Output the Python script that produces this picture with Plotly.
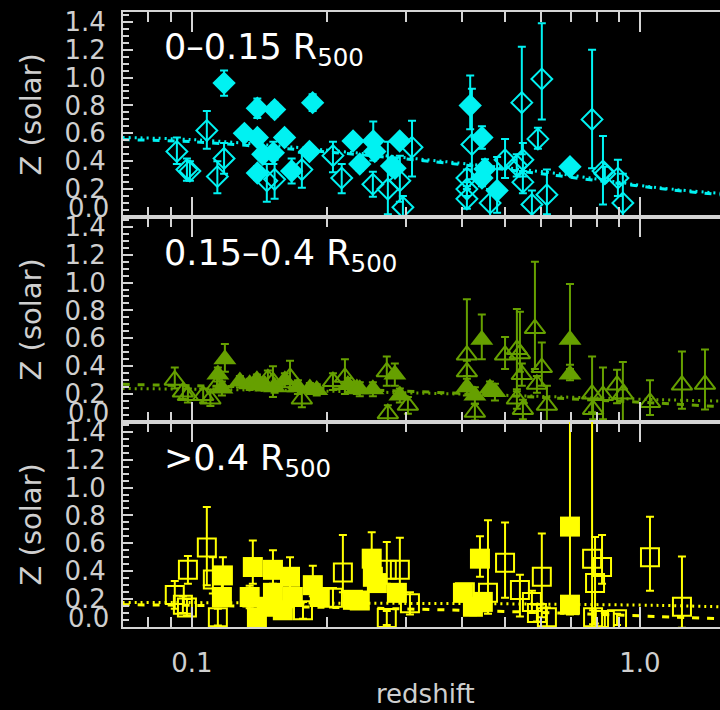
import math
import plotly.graph_objects as go
from plotly.subplots import make_subplots

# ---------------- data ----------------
# Panel 1: 0-0.15 R500 (cyan diamonds)
p1_fill_z = [0.118, 0.131, 0.140, 0.153, 0.140, 0.140, 0.144, 0.152, 0.161, 0.167,
             0.186, 0.183, 0.229, 0.237, 0.254, 0.256, 0.291, 0.279, 0.284, 0.418,
             0.444, 0.451, 0.444, 0.480, 0.698]
p1_fill_Z = [0.96, 0.60, 0.78, 0.77, 0.57, 0.315, 0.45, 0.46, 0.57, 0.33,
             0.82, 0.47, 0.545, 0.38, 0.545, 0.47, 0.545, 0.365, 0.35, 0.80,
             0.57, 0.345, 0.28, 0.19, 0.36]
p1_fill_ep = [0.09, 0.03, 0.07, 0.05, 0.04, 0.05, 0.05, 0.08, 0.04, 0.09,
              0.06, 0.03, 0.04, 0.05, 0.14, 0.05, 0.04, 0.06, 0.05, 0.215,
              0.08, 0.07, 0.06, 0.24, 0.03]
p1_fill_em = [0.09, 0.03, 0.07, 0.05, 0.04, 0.05, 0.05, 0.08, 0.04, 0.09,
              0.06, 0.03, 0.04, 0.05, 0.14, 0.05, 0.04, 0.06, 0.05, 0.17,
              0.08, 0.07, 0.06, 0.16, 0.03]

p1_open_z = [0.0926, 0.0975, 0.099, 0.108, 0.114, 0.118, 0.147, 0.153, 0.176, 0.2065,
             0.216, 0.310, 0.2535, 0.2738, 0.2912, 0.2958, 0.4217, 0.411, 0.411, 0.411,
             0.463, 0.500, 0.531, 0.545, 0.548, 0.548, 0.574, 0.604, 0.592, 0.620,
             0.782, 0.827, 0.835, 0.893, 0.916]
p1_open_Z = [0.47, 0.34, 0.33, 0.62, 0.29, 0.42, 0.26, 0.27, 0.34, 0.44,
             0.28, 0.50, 0.235, 0.20, 0.26, 0.07, 0.52, 0.28, 0.20, 0.13,
             0.10, 0.41, 0.37, 0.82, 0.41, 0.25, 0.09, 0.99, 0.56, 0.16,
             0.70, 0.33, 0.31, 0.28, 0.10]
p1_open_ep = [0.10, 0.08, 0.07, 0.14, 0.11, 0.11, 0.12, 0.14, 0.12, 0.10,
              0.10, 0.19, 0.09, 0.34, 0.18, 0.08, 0.40, 0.06, 0.05, 0.07,
              0.10, 0.15, 0.08, 0.40, 0.12, 0.08, 0.10, 0.40, 0.08, 0.18,
              0.50, 0.25, 0.05, 0.13, 0.21]
p1_open_em = [0.09, 0.08, 0.07, 0.13, 0.12, 0.11, 0.15, 0.14, 0.13, 0.12,
              0.11, 0.21, 0.09, 0.18, 0.15, 0.08, 0.25, 0.06, 0.05, 0.07,
              0.10, 0.13, 0.08, 0.37, 0.12, 0.08, 0.10, 0.29, 0.07, 0.14,
              0.35, 0.24, 0.05, 0.13, 0.12]

# Panel 2: 0.15-0.4 R500 (green triangles)
p2_fill_z = [0.1185, 0.1143, 0.1167, 0.128, 0.1346, 0.1397, 0.1455, 0.153, 0.1419, 0.1613,
             0.1725, 0.1834, 0.190, 0.223, 0.2335, 0.237, 0.2535, 0.2838, 0.2912, 0.411,
             0.4437, 0.4282, 0.4627, 0.4747, 0.698, 0.698]
p2_fill_Z = [0.45, 0.34, 0.24, 0.29, 0.27, 0.30, 0.265, 0.25, 0.265, 0.30,
             0.25, 0.24, 0.23, 0.265, 0.24, 0.235, 0.235, 0.34, 0.19, 0.25,
             0.59, 0.19, 0.24, 0.215, 0.59, 0.34]
p2_fill_ep = [0.11, 0.05, 0.05, 0.04, 0.04, 0.04, 0.04, 0.04, 0.04, 0.05,
              0.05, 0.04, 0.04, 0.05, 0.04, 0.05, 0.05, 0.08, 0.05, 0.06,
              0.18, 0.06, 0.05, 0.06, 0.40, 0.04]
p2_fill_em = [0.09, 0.05, 0.05, 0.04, 0.04, 0.04, 0.04, 0.04, 0.04, 0.05,
              0.05, 0.04, 0.04, 0.05, 0.04, 0.05, 0.05, 0.08, 0.05, 0.06,
              0.14, 0.06, 0.05, 0.06, 0.18, 0.04]

p2_open_z = [0.0916, 0.0955, 0.098, 0.106, 0.110, 0.1138, 0.1478, 0.1517, 0.1656, 0.176,
             0.2065, 0.2196, 0.2723, 0.3035, 0.2738, 0.411, 0.411, 0.4282, 0.500, 0.5314,
             0.5397, 0.545, 0.5314, 0.548, 0.583, 0.604, 0.589, 0.620, 0.782, 0.786,
             0.827, 0.889, 0.916, 1.053, 1.241, 1.397]
p2_open_Z = [0.30, 0.215, 0.19, 0.19, 0.165, 0.265, 0.31, 0.29, 0.32, 0.165,
             0.29, 0.32, 0.36, 0.12, 0.06, 0.48, 0.36, 0.07, 0.48, 0.52,
             0.49, 0.34, 0.165, 0.09, 0.67, 0.39, 0.27, 0.12, 0.20, 0.09,
             0.19, 0.265, 0.20, 0.14, 0.265, 0.27]
p2_open_ep = [0.09, 0.05, 0.05, 0.05, 0.05, 0.05, 0.06, 0.11, 0.12, 0.06,
              0.06, 0.13, 0.11, 0.06, 0.06, 0.40, 0.08, 0.06, 0.13, 0.29,
              0.30, 0.08, 0.07, 0.07, 0.48, 0.18, 0.06, 0.14, 0.27, 0.07,
              0.20, 0.11, 0.23, 0.16, 0.24, 0.25]
p2_open_em = [0.06, 0.05, 0.05, 0.05, 0.05, 0.05, 0.06, 0.11, 0.10, 0.06,
              0.06, 0.12, 0.10, 0.06, 0.06, 0.15, 0.08, 0.06, 0.10, 0.30,
              0.13, 0.08, 0.07, 0.07, 0.29, 0.13, 0.06, 0.12, 0.13, 0.07,
              0.17, 0.13, 0.20, 0.09, 0.17, 0.18]

# Panel 3: >0.4 R500 (yellow squares)
p3_fill_z = [0.1173, 0.1167, 0.1368, 0.1346, 0.1397, 0.1517, 0.1517, 0.147, 0.1596, 0.1656,
             0.168, 0.1862, 0.193, 0.2288, 0.237, 0.252, 0.2535, 0.2588, 0.2868, 0.4027,
             0.4395, 0.4239, 0.446, 0.698, 0.698]
p3_fill_Z = [0.37, 0.215, 0.43, 0.215, 0.07, 0.41, 0.245, 0.145, 0.12, 0.36,
             0.215, 0.30, 0.215, 0.195, 0.19, 0.49, 0.36, 0.315, 0.245, 0.245,
             0.49, 0.145, 0.18, 0.72, 0.16]
p3_fill_ep = [0.13, 0.06, 0.19, 0.08, 0.05, 0.14, 0.06, 0.05, 0.05, 0.14,
              0.06, 0.14, 0.06, 0.06, 0.06, 0.19, 0.06, 0.06, 0.06, 0.06,
              0.16, 0.06, 0.05, 0.80, 0.06]
p3_fill_em = [0.10, 0.06, 0.12, 0.08, 0.05, 0.10, 0.06, 0.05, 0.05, 0.10,
              0.06, 0.08, 0.06, 0.06, 0.06, 0.10, 0.06, 0.06, 0.06, 0.06,
              0.13, 0.06, 0.05, 0.50, 0.07]

p3_open_z = [0.0916, 0.0955, 0.098, 0.0975, 0.108, 0.1143, 0.1114, 0.177, 0.2065, 0.2173,
             0.2723, 0.2912, 0.3067, 0.2723, 0.4067, 0.458, 0.500, 0.5397, 0.574, 0.604,
             0.589, 0.620, 0.782, 0.823, 0.794, 0.786, 0.835, 0.889, 1.053, 1.241]
p3_open_Z = [0.23, 0.16, 0.41, 0.14, 0.57, 0.07, 0.34, 0.12, 0.21, 0.39,
             0.41, 0.41, 0.17, 0.065, 0.25, 0.245, 0.46, 0.265, 0.18, 0.36,
             0.10, 0.07, 0.49, 0.43, 0.315, 0.07, 0.05, 0.055, 0.50, 0.145]
p3_open_ep = [0.10, 0.06, 0.10, 0.06, 0.29, 0.06, 0.16, 0.06, 0.07, 0.27,
              0.20, 0.23, 0.08, 0.05, 0.05, 0.52, 0.29, 0.11, 0.08, 0.31,
              0.06, 0.07, 1.00, 0.23, 0.33, 0.05, 0.05, 0.04, 0.29, 0.36]
p3_open_em = [0.10, 0.06, 0.10, 0.06, 0.27, 0.06, 0.10, 0.06, 0.07, 0.14,
              0.10, 0.15, 0.08, 0.05, 0.05, 0.15, 0.25, 0.19, 0.08, 0.29,
              0.06, 0.07, 0.50, 0.12, 0.29, 0.05, 0.05, 0.04, 0.24, 0.15]

# Trend curves
trend_z = [0.07, 0.10, 0.17, 0.25, 0.40, 0.66, 1.10, 1.51]
p1_dot = [0.57, 0.555, 0.50, 0.45, 0.385, 0.31, 0.21, 0.17]
p1_dash = [0.555, 0.54, 0.485, 0.44, 0.375, 0.295, 0.205, 0.16]
p2_dot = [0.24, 0.235, 0.225, 0.215, 0.20, 0.18, 0.16, 0.15]
p2_dash = [0.27, 0.26, 0.245, 0.23, 0.205, 0.17, 0.135, 0.11]
p3_dot = [0.175, 0.175, 0.172, 0.17, 0.168, 0.163, 0.155, 0.145]
p3_dash = [0.16, 0.155, 0.145, 0.135, 0.12, 0.10, 0.075, 0.06]

panel_labels = ["0\u20130.15 R<sub>500</sub>", "0.15\u20130.4 R<sub>500</sub>", "&gt;0.4 R<sub>500</sub>"]
x_tick_vals = [0.1, 1.0]
x_tick_text = ["0.1", "1.0"]
x_minor_vals = [0.08, 0.09, 0.2, 0.3, 0.4, 0.5, 0.6, 0.7, 0.8, 0.9]
y_tick_vals = [0.2, 0.4, 0.6, 0.8, 1.0, 1.2, 1.4]
y_tick_text = ["0.2", "0.4", "0.6", "0.8", "1.0", "1.2", "1.4"]

# ---------------- styling ----------------
CYAN = "#00F2F2"
GREEN = "#66A000"
YELLOW = "#FFFF00"
AX = "#D4D4D4"
TXT = "#CFCFCF"
FONT = "DejaVu Sans"

fig = make_subplots(rows=3, cols=1, shared_xaxes=True, vertical_spacing=0)

panels = [
    (CYAN, "diamond", 16, 18, p1_fill_z, p1_fill_Z, p1_fill_ep, p1_fill_em,
     p1_open_z, p1_open_Z, p1_open_ep, p1_open_em, p1_dot, p1_dash),
    (GREEN, "triangle-up", 18, 20, p2_fill_z, p2_fill_Z, p2_fill_ep, p2_fill_em,
     p2_open_z, p2_open_Z, p2_open_ep, p2_open_em, p2_dot, p2_dash),
    (YELLOW, "square", 18, 20, p3_fill_z, p3_fill_Z, p3_fill_ep, p3_fill_em,
     p3_open_z, p3_open_Z, p3_open_ep, p3_open_em, p3_dot, p3_dash),
]

for i, (col, sym, so, sf, fz, fZ, fep, fem, oz, oZ, oep, oem, ldot, ldash) in enumerate(panels):
    r = i + 1
    fig.add_trace(go.Scatter(x=trend_z, y=ldot, mode="lines", line=dict(color=col, width=3, dash="2px,4px", shape="spline"),
                             showlegend=False, hoverinfo="skip"), row=r, col=1)
    fig.add_trace(go.Scatter(x=trend_z, y=ldash, mode="lines", line=dict(color=col, width=3, dash="7px,8px", shape="spline"),
                             showlegend=False, hoverinfo="skip"), row=r, col=1)
    fig.add_trace(go.Scatter(x=oz, y=oZ, mode="markers",
                             marker=dict(symbol=sym + "-open", size=so, color=col, line=dict(width=2, color=col)),
                             error_y=dict(type="data", array=oep, arrayminus=oem, color=col, thickness=2, width=4),
                             showlegend=False), row=r, col=1)
    fig.add_trace(go.Scatter(x=fz, y=fZ, mode="markers",
                             marker=dict(symbol=sym, size=sf, color=col, line=dict(width=0)),
                             error_y=dict(type="data", array=fep, arrayminus=fem, color=col, thickness=2, width=4),
                             showlegend=False), row=r, col=1)

xr = [math.log10(0.0702), math.log10(1.509)]
tfont = dict(family=FONT, size=26, color=TXT)
for r in (1, 2, 3):
    fig.update_xaxes(type="log", range=xr, showgrid=False, zeroline=False,
                     showline=True, linecolor=AX, linewidth=2, mirror="ticks",
                     ticks="inside", ticklen=20, tickwidth=2, tickcolor=AX,
                     tickmode="array", tickvals=x_tick_vals, ticktext=x_tick_text,
                     minor=dict(tickmode="array", tickvals=x_minor_vals, ticks="inside",
                                ticklen=10, tickwidth=2, tickcolor=AX, showgrid=False),
                     tickfont=tfont,
                     showticklabels=(r == 3), ticklabelstandoff=12,
                     row=r, col=1)
    fig.update_yaxes(range=[0, 1.47], showgrid=False, zeroline=False,
                     showline=True, linecolor=AX, linewidth=2, mirror=False,
                     ticks="inside", ticklen=10, tickwidth=2, tickcolor=AX,
                     tickmode="array", tickvals=y_tick_vals, ticktext=y_tick_text,
                     minor=dict(tickmode="linear", tick0=0, dtick=0.05, ticks="inside",
                                ticklen=6, tickwidth=2, tickcolor=AX, showgrid=False),
                     tickfont=tfont,
                     ticklabelstandoff=10,
                     row=r, col=1)

annotations = []
plot_w = 720 - 123
for i in range(3):
    yname = "y" if i == 0 else "y%d" % (i + 1)
    annotations.append(dict(text=panel_labels[i], xref="paper", yref=yname + " domain",
                            x=(162 - 123) / plot_w, y=1 - 38 / 205, xanchor="left", yanchor="middle",
                            showarrow=False, font=dict(family=FONT, size=35, color="white")))
    annotations.append(dict(text="Z (solar)", xref="paper", yref=yname + " domain",
                            x=(30 - 123) / plot_w, y=0.5, xanchor="center", yanchor="middle",
                            textangle=-90, showarrow=False, font=dict(family=FONT, size=29, color=TXT)))
    annotations.append(dict(text="0.0", xref="paper", yref=yname, x=(111 - 123) / plot_w, y=0,
                            xanchor="right", yanchor="middle", yshift=9, showarrow=False,
                            font=tfont))

annotations.append(dict(text="redshift", xref="paper", yref="paper", x=(425 - 123) / plot_w,
                        y=(627 - 694) / 615, xanchor="center", yanchor="middle", showarrow=False,
                        font=dict(family=FONT, size=26, color=TXT)))

fig.update_layout(width=720, height=710, margin=dict(l=123, r=0, t=12, b=83),
                  paper_bgcolor="black", plot_bgcolor="black", showlegend=False,
                  annotations=annotations)

fig.write_html("out.html")
